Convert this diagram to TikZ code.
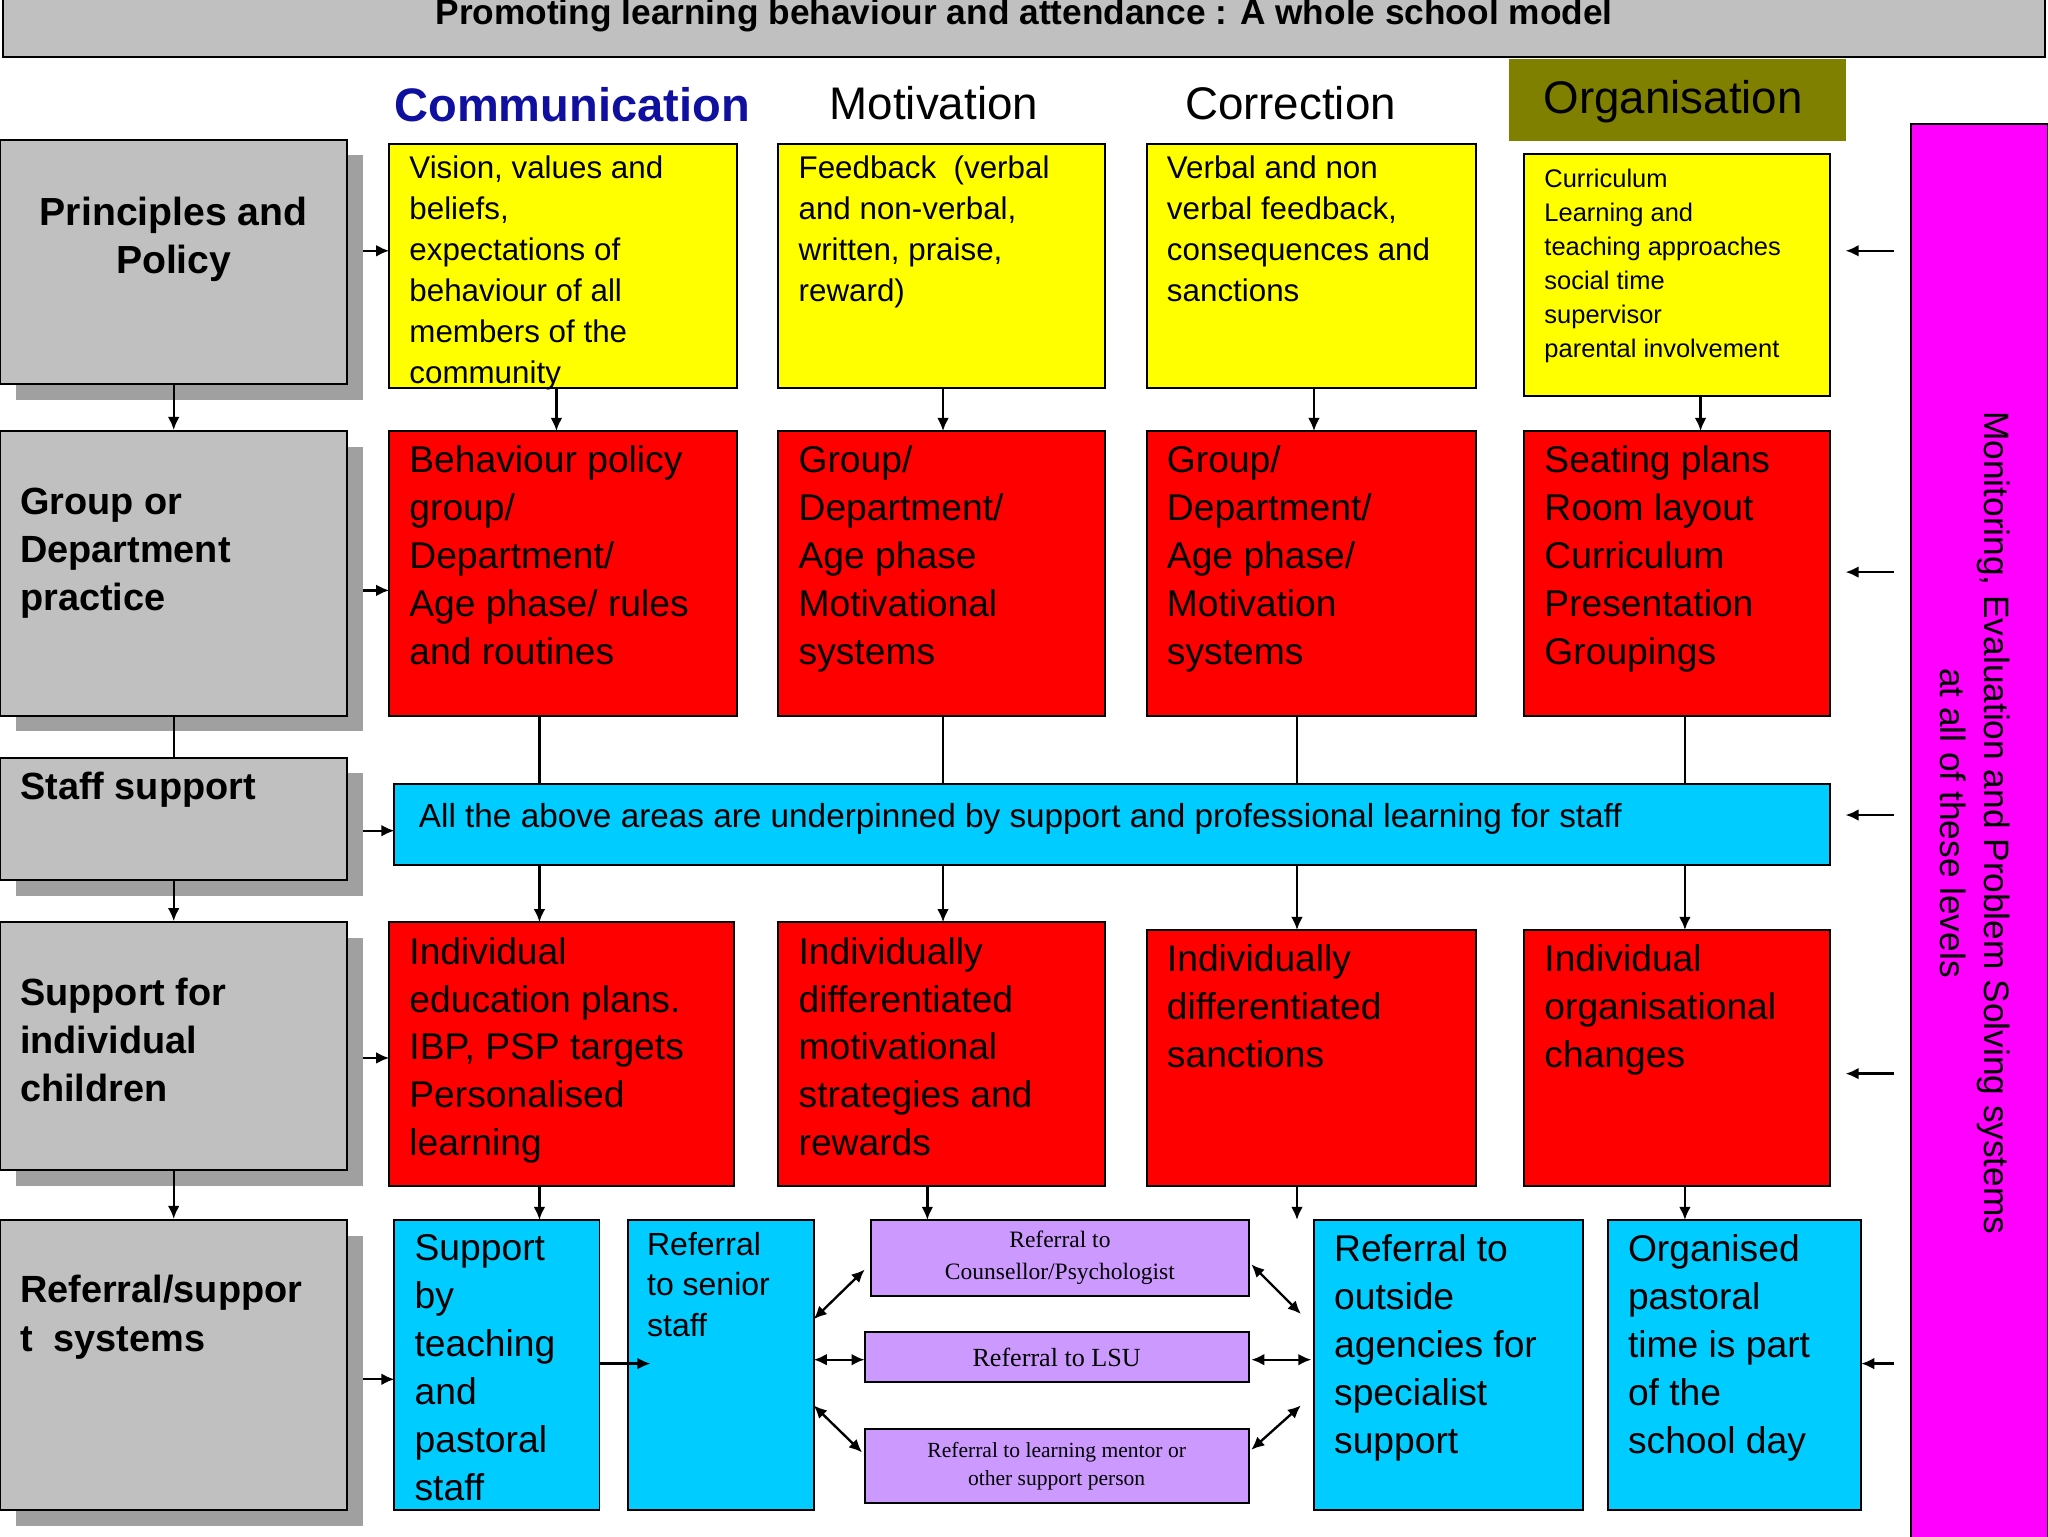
\documentclass[tikz,border=0pt]{standalone}
\usepackage{fontspec}
\setmainfont{Liberation Sans}
\newfontfamily\serf{Liberation Serif}
\usetikzlibrary{fit,calc,arrows.meta}
\definecolor{ygold}{HTML}{FFFF00}
\definecolor{rred}{HTML}{FF0000}
\definecolor{ccyan}{HTML}{00CCFF}
\definecolor{ppur}{HTML}{CC99FF}
\definecolor{mmag}{HTML}{FF00FF}
\definecolor{olive}{HTML}{808000}
\definecolor{gbox}{HTML}{C0C0C0}
\definecolor{gshad}{HTML}{A0A0A0}
\definecolor{hblue}{HTML}{1010A0}
\newcommand\fs[2]{\fontsize{#1}{#2}\selectfont}
\newcommand\bx[6]{\node[#6,fit={(#2,#3)(#4,#5)},inner sep=0pt] (#1) {};}
\newcommand\tx[4]{\node[anchor=north west,align=left,inner sep=0pt,font=#3] at ($(#1.north west)+(#2)$) {#4};}
\tikzset{
 yb/.style={draw=black,fill=ygold,line width=1.5pt},
 rb/.style={draw=black,fill=rred,line width=1.5pt},
 cb/.style={draw=black,fill=ccyan,line width=1.5pt},
 pb/.style={draw=black,fill=ppur,line width=1.5pt},
 gb/.style={draw=black,fill=gbox,line width=1.5pt},
 shd/.style={fill=gshad},
 ar/.style={-{Latex[length=10pt,width=9pt]},line width=1.8pt},
 dar/.style={{Latex[length=10pt,width=9pt]}-{Latex[length=10pt,width=9pt]},line width=1.8pt},
 ln/.style={line width=1.8pt},
}
\begin{document}
\begin{tikzpicture}[x=1pt,y=-1pt]
\useasboundingbox (0,0) rectangle (1568,1176);
% title
\bx{title}{2}{-5}{1566}{44}{gb}
\node[font=\bfseries\fs{27}{30}] at (784,12) {Promoting learning behaviour and attendance : A whole school model};
% headers
\node[font=\bfseries\fs{36}{40},text=hblue] (h1) at (438,80) {Communication};
\node[font=\fs{35}{40}] (h2) at (715,79) {Motivation};
\node[font=\fs{35}{40}] (h3) at (988,79) {Correction};
\bx{orgb}{1155}{45}{1413}{108}{fill=olive}
\node[font=\fs{35}{40}] (h4) at (1281,78) {Organisation};
% magenta bar
\bx{mag}{1463}{95}{1568}{1180}{draw=black,fill=mmag,line width=1.5pt}
\node[rotate=-90,align=center,font=\fs{27}{34}] at (1512,630) {Monitoring, Evaluation and Problem Solving systems\\at all of these levels};
% left gray boxes with shadows
\fill[shd] (12,119) rectangle (278,306);
\fill[shd] (12,342) rectangle (278,560);
\fill[shd] (12,592) rectangle (278,686);
\fill[shd] (12,718) rectangle (278,908);
\fill[shd] (12,946) rectangle (278,1168);
\bx{l1}{0}{107}{266}{294}{gb}
\bx{l2}{0}{330}{266}{548}{gb}
\bx{l3}{0}{580}{266}{674}{gb}
\bx{l4}{0}{706}{266}{896}{gb}
\bx{l5}{0}{934}{266}{1156}{gb}
\node[align=center,font=\bfseries\fs{30}{37}] at ($(l1.center)+(0,-17)$) {Principles and\\Policy};
\tx{l2}{16,44}{\bfseries\fs{29}{37}}{Group or\\Department\\practice}
\tx{l3}{16,12}{\bfseries\fs{29}{37}}{Staff support}
\tx{l4}{16,43}{\bfseries\fs{29}{37}}{Support for\\individual\\children}
\tx{l5}{16,43}{\bfseries\fs{29}{37}}{Referral/suppor\\t\ \ systems}
% yellow
\bx{y1}{298}{110}{564}{297}{yb}
\bx{y2}{596}{110}{846}{297}{yb}
\bx{y3}{878}{110}{1130}{297}{yb}
\bx{y4}{1167}{118}{1401}{303}{yb}
\tx{y1}{16,10}{\fs{24}{31.3}}{Vision, values and\\beliefs,\\expectations of\\behaviour of all\\members of the\\community}
\tx{y2}{16,10}{\fs{24}{31.3}}{Feedback\ \ (verbal\\and non-verbal,\\written, praise,\\reward)}
\tx{y3}{16,10}{\fs{24}{31.3}}{Verbal and non\\verbal feedback,\\consequences and\\sanctions}
\tx{y4}{16,12}{\fs{19.5}{26}}{Curriculum\\Learning and\\teaching approaches\\social time\\supervisor\\parental involvement}
% red row 1
\bx{r1}{298}{330}{564}{548}{rb}
\bx{r2}{596}{330}{846}{548}{rb}
\bx{r3}{878}{330}{1130}{548}{rb}
\bx{r4}{1167}{330}{1401}{548}{rb}
\tx{r1}{16,12}{\fs{28.5}{36.7}}{Behaviour policy\\group/\\Department/\\Age phase/ rules\\and routines}
\tx{r2}{16,12}{\fs{28.5}{36.7}}{Group/\\Department/\\Age phase\\Motivational\\systems}
\tx{r3}{16,12}{\fs{28.5}{36.7}}{Group/\\Department/\\Age phase/\\Motivation\\systems}
\tx{r4}{16,12}{\fs{28.5}{36.7}}{Seating plans\\Room layout\\Curriculum\\Presentation\\Groupings}
% cyan wide
\bx{cw}{302}{600}{1401}{662}{cb}
\node[anchor=west,font=\fs{25.5}{30}] at ($(cw.west)+(16,-4)$) {All the above areas are underpinned by support and professional learning for staff};
% red row 2
\bx{s1}{298}{706}{562}{908}{rb}
\bx{s2}{596}{706}{846}{908}{rb}
\bx{s3}{878}{712}{1130}{908}{rb}
\bx{s4}{1167}{712}{1401}{908}{rb}
\tx{s1}{16,12}{\fs{28.5}{36.7}}{Individual\\education plans.\\IBP, PSP targets\\Personalised\\learning}
\tx{s2}{16,12}{\fs{28.5}{36.7}}{Individually\\differentiated\\motivational\\strategies and\\rewards}
\tx{s3}{16,12}{\fs{28.5}{36.7}}{Individually\\differentiated\\sanctions}
\tx{s4}{16,12}{\fs{28.5}{36.7}}{Individual\\organisational\\changes}
% bottom row
\bx{b1}{302}{934}{459}{1156}{cb}
\bx{b2}{481}{934}{623}{1156}{cb}
\bx{b3}{1006}{934}{1212}{1156}{cb}
\bx{b4}{1231}{934}{1425}{1156}{cb}
\tx{b1}{16,12}{\fs{28.5}{36.7}}{Support\\by\\teaching\\and\\pastoral\\staff}
\tx{b2}{15,10}{\fs{24.5}{31}}{Referral\\to senior\\staff}
\tx{b3}{16,12}{\fs{28.5}{36.7}}{Referral to\\outside\\agencies for\\specialist\\support}
\tx{b4}{16,12}{\fs{28.5}{36.7}}{Organised\\pastoral\\time is part\\of the\\school day}
\bx{p1}{667}{934}{956}{992}{pb}
\bx{p2}{662}{1020}{956}{1058}{pb}
\bx{p3}{662}{1094}{956}{1151}{pb}
\node[align=center,font=\serf\fs{18}{24}] at (p1.center) {Referral to\\Counsellor/Psychologist};
\node[font=\serf\fs{20}{24}] at (p2.center) {Referral to LSU};
\node[align=center,font=\serf\fs{16.5}{22}] at (p3.center) {Referral to learning mentor or\\other support person};
% left column arrows
\draw[ar] (l1.south) -- (l2.north);
\draw[ln] (l2.south) -- (l3.north);
\draw[ar] (l3.south) -- (l4.north);
\draw[ar] (l4.south) -- (l5.north);
\draw[ar] (278,192) -- (298,192);
\draw[ar] (278,452) -- (298,452);
\draw[ar] (278,636) -- (302,636);
\draw[ar] (278,810) -- (298,810);
\draw[ar] (278,1056) -- (302,1056);
% yellow to red
\draw[ar] (426,297) -- (426,330);
\draw[ar] (722,297) -- (722,330);
\draw[ar] (1006,297) -- (1006,330);
\draw[ar] (1302,303) -- (1302,330);
% red to cyan to red
\foreach \x/\t in {413/706,722/706,993/712,1290/712}{
 \draw[ln] (\x,548) -- (\x,600);
 \draw[ar] (\x,662) -- (\x,\t);
}
\draw[ar] (413,908) -- (413,934);
\draw[ar] (710,908) -- (710,934);
\draw[ar] (993,908) -- (993,934);
\draw[ar] (1290,908) -- (1290,934);
% from magenta
\foreach \y in {192,438,624,822}{\draw[ar] (1450,\y) -- (1413,\y);}
\draw[ar] (1450,1044) -- (1425,1044);
% bottom
\draw[ar] (459,1044) -- (498,1044);
\draw[dar] (623,1010) -- (662,972);
\draw[dar] (623,1041) -- (662,1041);
\draw[dar] (623,1076) -- (660,1112);
\draw[dar] (958,968) -- (996,1006);
\draw[dar] (958,1041) -- (1004,1041);
\draw[dar] (958,1110) -- (996,1076);
\end{tikzpicture}
\end{document}
